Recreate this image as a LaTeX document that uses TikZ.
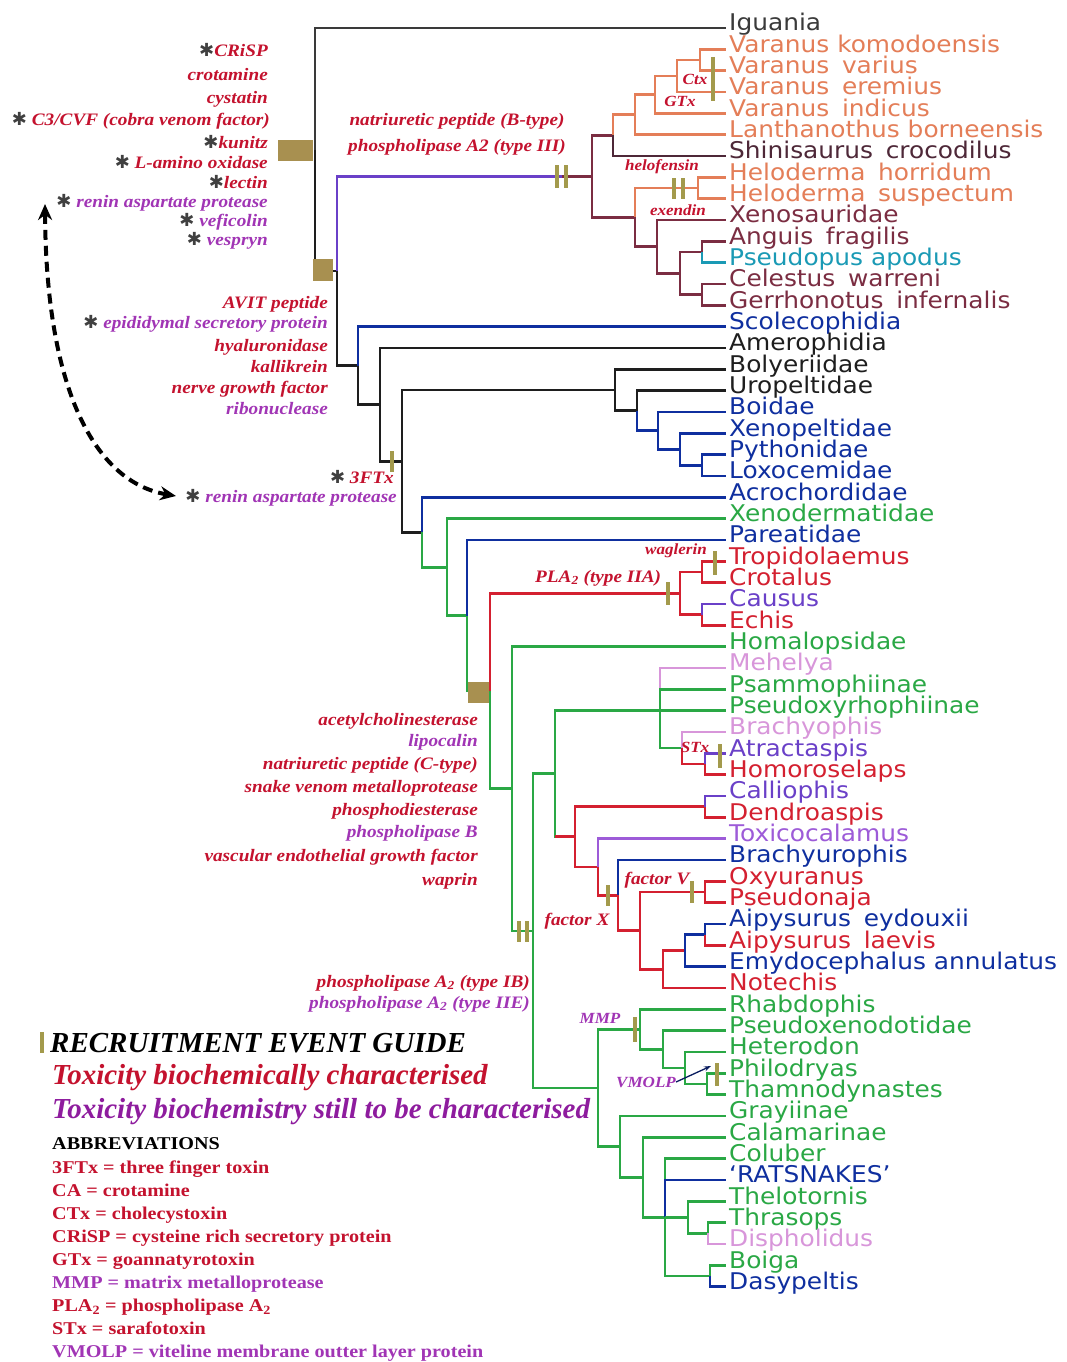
\documentclass[tikz,border=0pt]{standalone}
\usepackage{fontspec}
\setmainfont{Liberation Serif}
\newfontfamily\tipfont[FakeStretch=1.08]{DejaVu Sans}
\newfontfamily\symfnt{DejaVu Sans}
\newfontfamily\labserif[FakeStretch=1.1]{Liberation Serif}
\newfontfamily\absserif[FakeStretch=1.12]{Liberation Serif}
\usetikzlibrary{arrows.meta}
\definecolor{cgray}{HTML}{3A3A3A}
\definecolor{cblack}{HTML}{1E1E1E}
\definecolor{corange}{HTML}{E47E58}
\definecolor{cmaroon}{HTML}{7B2D42}
\definecolor{cdmaroon}{HTML}{4E2838}
\definecolor{cteal}{HTML}{1A9AB5}
\definecolor{cblue}{HTML}{0F2F9F}
\definecolor{cgreen}{HTML}{2AA845}
\definecolor{cred}{HTML}{D42030}
\definecolor{cpurple}{HTML}{6A40C8}
\definecolor{cpink}{HTML}{D896DA}
\definecolor{cviolet}{HTML}{9D5BD8}
\definecolor{lred}{HTML}{C4122E}
\definecolor{lpurple}{HTML}{A135B5}
\definecolor{gpurple}{HTML}{8E1C9E}
\definecolor{tickc}{HTML}{A39A4C}
\definecolor{boxc}{HTML}{A89050}
\definecolor{cstar}{HTML}{404040}
\newcommand\wsp{\hspace{0.55em}}
\newcommand\astk{{\color{cstar}\symfnt\fontsize{18}{18}\selectfont ✱}}
\newcommand\brn[3]{\draw[br,#1] (#2) |- (#3);}
\tikzset{
  br/.style={line width=2.8pt},
  tk/.style={draw=tickc, line width=3.4pt},
  tip/.style={font={\tipfont\fontsize{23}{25}\selectfont}, anchor=base west, inner sep=0pt},
  lab/.style={font={\labserif\bfseries\itshape\fontsize{17.5}{19}\selectfont}, inner sep=0pt},
  labs/.style={font={\labserif\bfseries\itshape\fontsize{15.5}{17}\selectfont}, inner sep=0pt},
  labR/.style={lab, text=lred},
  labP/.style={lab, text=lpurple},
  big/.style={font={\bfseries\itshape\fontsize{29}{31}\selectfont}, inner sep=0pt, anchor=base west},
  abb/.style={font={\absserif\bfseries\fontsize{18}{20}\selectfont}, inner sep=0pt, anchor=base west},
}
\begin{document}
\begin{tikzpicture}[x=1pt,y=-1pt]
\useasboundingbox[fill=white] (0,0) rectangle (1066,1362);

% tips
\foreach \i/\nm/\cc in {
1/Iguania/cgray,
2/Varanus komodoensis/corange,
3/Varanus\wsp varius/corange,
4/Varanus\wsp eremius/corange,
5/Varanus\wsp indicus/corange,
6/Lanthanothus borneensis/corange,
7/Shinisaurus\wsp crocodilus/cdmaroon,
8/Heloderma\wsp horridum/corange,
9/Heloderma\wsp suspectum/corange,
10/Xenosauridae/cmaroon,
11/Anguis\wsp fragilis/cmaroon,
12/Pseudopus apodus/cteal,
13/Celestus\wsp warreni/cmaroon,
14/Gerrhonotus\wsp infernalis/cmaroon,
15/Scolecophidia/cblue,
16/Amerophidia/cblack,
17/Bolyeriidae/cblack,
18/Uropeltidae/cblack,
19/Boidae/cblue,
20/Xenopeltidae/cblue,
21/Pythonidae/cblue,
22/Loxocemidae/cblue,
23/Acrochordidae/cblue,
24/Xenodermatidae/cgreen,
25/Pareatidae/cblue,
26/Tropidolaemus/cred,
27/Crotalus/cred,
28/Causus/cpurple,
29/Echis/cred,
30/Homalopsidae/cgreen,
31/Mehelya/cpink,
32/Psammophiinae/cgreen,
33/Pseudoxyrhophiinae/cgreen,
34/Brachyophis/cpink,
35/Atractaspis/cpurple,
36/Homoroselaps/cred,
37/Calliophis/cpurple,
38/Dendroaspis/cred,
39/Toxicocalamus/cviolet,
40/Brachyurophis/cblue,
41/Oxyuranus/cred,
42/Pseudonaja/cred,
43/Aipysurus\wsp eydouxii/cblue,
44/Aipysurus\wsp laevis/cred,
45/Emydocephalus annulatus/cblue,
46/Notechis/cred,
47/Rhabdophis/cgreen,
48/Pseudoxenodotidae/cgreen,
49/Heterodon/cgreen,
50/Philodryas/cgreen,
51/Thamnodynastes/cgreen,
52/Grayiinae/cgreen,
53/Calamarinae/cgreen,
54/Coluber/cgreen,
55/‘RATSNAKES’/cblue,
56/Thelotornis/cgreen,
57/Thrasops/cgreen,
58/Dispholidus/cpink,
59/Boiga/cgreen,
60/Dasypeltis/cblue}{
  \pgfmathsetmacro\yy{28+(\i-1)*21.333}
  \coordinate (t\i) at (726,\yy);
  \node[tip,text=\cc] (l\i) at (729,\yy+3) {\nm};
}

% internal nodes
\coordinate (R) at (315,149.5);
\coordinate (T) at (337,271);
\coordinate (A) at (592,176.3);
\coordinate (tA) at (562,176.3);
\coordinate (a1) at (613,135.3);
\coordinate (a2) at (635,114.7);
\coordinate (a3) at (655,94.7);
\coordinate (a4) at (677,76);
\coordinate (a5) at (700,60);
\coordinate (a6) at (635,217.3);
\coordinate (a7) at (698,188);
\coordinate (a8) at (657,246.7);
\coordinate (a9) at (680,273.3);
\coordinate (a10) at (702,252);
\coordinate (a11) at (702,294.7);
\coordinate (S) at (358,365.6);
\coordinate (s1) at (380,404.6);
\coordinate (s2) at (402,461.1);
\coordinate (s3) at (615,390);
\coordinate (s4) at (637,410.7);
\coordinate (s5) at (658,430.7);
\coordinate (s6) at (680,449.3);
\coordinate (s7) at (702,465.3);
\coordinate (s8) at (422,532.2);
\coordinate (s9) at (447,567.1);
\coordinate (s10) at (467,615.5);
\coordinate (s11) at (490,691);
\coordinate (v0) at (680,593.3);
\coordinate (v1) at (702,572);
\coordinate (v2) at (702,614.7);
\coordinate (C1) at (512,788.8);
\coordinate (C2) at (533,930.9);
\coordinate (C3) at (555,773.8);
\coordinate (L) at (660,710.7);
\coordinate (At) at (682,748);
\coordinate (At2) at (705,764);
\coordinate (E1) at (575,836.8);
\coordinate (E2) at (705,806.7);
\coordinate (E3) at (598,867);
\coordinate (E4) at (618,895.3);
\coordinate (E5) at (640,930.7);
\coordinate (E6) at (705,892);
\coordinate (E7) at (663,969.3);
\coordinate (E8) at (685,950.7);
\coordinate (E9) at (705,934.7);
\coordinate (D1) at (598,1088);
\coordinate (D2) at (640,1029.3);
\coordinate (D3) at (663,1049.3);
\coordinate (D4) at (685,1068);
\coordinate (D5) at (707,1084);
\coordinate (D6) at (620,1146.7);
\coordinate (D7) at (643,1177.3);
\coordinate (D8) at (665,1217.3);
\coordinate (D9) at (688,1217.3);
\coordinate (D10) at (708,1233.3);
\coordinate (D11) at (710,1276);

% branches: root and anguimorphs
\brn{cgray}{R}{t1}
\brn{cblack}{R}{T}
\brn{cpurple}{T}{tA}
\draw[br,cmaroon] (tA) -- (A);
\brn{cmaroon}{A}{a1}
\brn{cmaroon}{A}{a6}
\brn{corange}{a1}{a2}
\brn{cdmaroon}{a1}{t7}
\brn{corange}{a2}{a3}
\brn{corange}{a2}{t6}
\brn{corange}{a3}{a4}
\brn{corange}{a3}{t5}
\brn{corange}{a4}{a5}
\brn{corange}{a4}{t4}
\brn{corange}{a5}{t2}
\brn{corange}{a5}{t3}
\brn{corange}{a6}{a7}
\brn{corange}{a7}{t8}
\brn{corange}{a7}{t9}
\brn{cmaroon}{a6}{a8}
\brn{cmaroon}{a8}{t10}
\brn{cmaroon}{a8}{a9}
\brn{cmaroon}{a9}{a10}
\brn{cmaroon}{a9}{a11}
\brn{cmaroon}{a10}{t11}
\brn{cteal}{a10}{t12}
\brn{cmaroon}{a11}{t13}
\brn{cmaroon}{a11}{t14}
% snakes
\brn{cblack}{T}{S}
\brn{cblue}{S}{t15}
\brn{cblack}{S}{s1}
\brn{cblack}{s1}{t16}
\brn{cblack}{s1}{s2}
\brn{cblack}{s2}{s3}
\brn{cblack}{s3}{t17}
\brn{cblack}{s3}{s4}
\brn{cblack}{s4}{t18}
\brn{cblue}{s4}{s5}
\brn{cblue}{s5}{t19}
\brn{cblue}{s5}{s6}
\brn{cblue}{s6}{t20}
\brn{cblue}{s6}{s7}
\brn{cblue}{s7}{t21}
\brn{cblue}{s7}{t22}
\brn{cblack}{s2}{s8}
\brn{cblue}{s8}{t23}
\brn{cgreen}{s8}{s9}
\brn{cgreen}{s9}{t24}
\brn{cgreen}{s9}{s10}
\brn{cblue}{s10}{t25}
\brn{cgreen}{s10}{s11}
\brn{cred}{s11}{v0}
\brn{cred}{v0}{v1}
\brn{cred}{v0}{v2}
\brn{cred}{v1}{t26}
\brn{cred}{v1}{t27}
\brn{cpurple}{v2}{t28}
\brn{cred}{v2}{t29}
\brn{cgreen}{s11}{C1}
\brn{cgreen}{C1}{t30}
\brn{cgreen}{C1}{C2}
\brn{cgreen}{C2}{C3}
\brn{cgreen}{C2}{D1}
\brn{cgreen}{C3}{L}
\brn{cpink}{L}{t31}
\brn{cgreen}{L}{t32}
\brn{cgreen}{L}{t33}
\brn{cgreen}{L}{At}
\brn{cpink}{At}{t34}
\brn{cred}{At}{At2}
\brn{cpurple}{At2}{t35}
\brn{cred}{At2}{t36}
\brn{cgreen}{C3}{E1}
\draw[br,cred] (C3 |- E1) -- (E1);
\brn{cred}{E1}{E2}
\brn{cpurple}{E2}{t37}
\brn{cred}{E2}{t38}
\brn{cred}{E1}{E3}
\brn{cviolet}{E3}{t39}
\brn{cred}{E3}{E4}
\brn{cblue}{E4}{t40}
\brn{cred}{E4}{E5}
\brn{cred}{E5}{E6}
\brn{cred}{E6}{t41}
\brn{cred}{E6}{t42}
\brn{cred}{E5}{E7}
\brn{cred}{E7}{E8}
\brn{cred}{E7}{t46}
\brn{cblue}{E8}{E9}
\brn{cblue}{E8}{t45}
\brn{cblue}{E9}{t43}
\brn{cred}{E9}{t44}
\brn{cgreen}{D1}{D2}
\brn{cgreen}{D2}{t47}
\brn{cgreen}{D2}{D3}
\brn{cgreen}{D3}{t48}
\brn{cgreen}{D3}{D4}
\brn{cgreen}{D4}{t49}
\brn{cgreen}{D4}{D5}
\brn{cgreen}{D5}{t50}
\brn{cgreen}{D5}{t51}
\brn{cgreen}{D1}{D6}
\brn{cgreen}{D6}{t52}
\brn{cgreen}{D6}{D7}
\brn{cgreen}{D7}{t53}
\brn{cgreen}{D7}{D8}
\brn{cgreen}{D8}{t54}
\brn{cblue}{D8}{t55}
\brn{cgreen}{D8}{D9}
\brn{cgreen}{D9}{t56}
\brn{cgreen}{D9}{D10}
\brn{cgreen}{D10}{t57}
\brn{cpink}{D10}{t58}
\brn{cgreen}{D8}{D11}
\brn{cgreen}{D11}{t59}
\brn{cblue}{D11}{t60}

% recruitment boxes
\fill[boxc] (278,140) rectangle (313,161);
\fill[boxc] (313,259) rectangle (333,281);
\fill[boxc] (468,682) rectangle (489,703);

% recruitment ticks
\draw[tk] (557,165) -- (557,188);
\draw[tk] (566,165) -- (566,188);
\draw[tk] (713,57) -- (713,101);
\draw[tk] (674,178) -- (674,199);
\draw[tk] (683,178) -- (683,199);
\draw[tk] (392,451) -- (392,472);
\draw[tk] (668,582) -- (668,605);
\draw[tk] (715,551) -- (715,575);
\draw[tk] (720,744) -- (720,768);
\draw[tk] (608,885) -- (608,906);
\draw[tk] (692,881) -- (692,903);
\draw[tk] (519,921) -- (519,942);
\draw[tk] (527,921) -- (527,942);
\draw[tk] (635,1017) -- (635,1042);
\draw[tk] (717,1063) -- (717,1086);

% root toxin labels
\node[labR,anchor=base east] (k1) at (268,57) {\astk CRiSP};
\node[labR,anchor=base east] (k2) at (268,81) {crotamine};
\node[labR,anchor=base east] (k3) at (268,104) {cystatin};
\node[labR,anchor=base east] (k4) at (270,125) {\astk\ C3/CVF (cobra venom factor)};
\node[labR,anchor=base east] (k5) at (268,148) {\astk kunitz};
\node[labR,anchor=base east] (k6) at (268,168) {\astk\ L-amino oxidase};
\node[labR,anchor=base east] (k7) at (268,188) {\astk lectin};
\node[labP,anchor=base east] (k8) at (268,207) {\astk\ renin aspartate protease};
\node[labP,anchor=base east] (k9) at (268,226) {\astk\ veficolin};
\node[labP,anchor=base east] (k10) at (268,245) {\astk\ vespryn};

\node[labR,anchor=base east] (m1) at (328,308) {AVIT peptide};
\node[labP,anchor=base east] (m2) at (328,328) {\astk\ epididymal secretory protein};
\node[labR,anchor=base east] (m3) at (328,351) {hyaluronidase};
\node[labR,anchor=base east] (m4) at (328,372) {kallikrein};
\node[labR,anchor=base east] (m5) at (328,393) {nerve growth factor};
\node[labP,anchor=base east] (m6) at (328,414) {ribonuclease};

\node[labR,anchor=base east] (f1) at (394,483) {\astk\ 3FTx};
\node[labP,anchor=base east] (f2) at (397,502) {\astk\ renin aspartate protease};

% dashed double arrow
\coordinate (dA) at (45,204);
\coordinate (dB) at (176,496);
\draw[line width=4pt, dash pattern=on 10pt off 6pt,
  {Stealth[length=16pt,width=14pt]}-{Stealth[length=16pt,width=14pt]}]
  (dA) .. controls (46,390) and (95,482) .. (dB);

% anguimorph labels
\node[labR,anchor=base] (np1) at (457,125) {natriuretic peptide (B-type)};
\node[labR,anchor=base] (np2) at (457,151) {phospholipase A2 (type III)};
\node[labs,text=lred,anchor=base] (ctx) at (695,85) {Ctx};
\node[labs,text=lred,anchor=base] (gtx) at (680,107) {GTx};
\node[labs,text=lred,anchor=base] (helo) at (662,170) {helofensin};
\node[labs,text=lred,anchor=base] (exen) at (678,215) {exendin};

% viperid labels
\node[labs,text=lred,anchor=base east] (wag) at (707,554) {waglerin};
\node[labR,anchor=base west] (pla) at (535,582) {PLA\textsubscript{2} (type IIA)};

% caenophidian labels
\node[labR,anchor=base east] (c1) at (478,725) {acetylcholinesterase};
\node[labP,anchor=base east] (c2) at (478,746) {lipocalin};
\node[labR,anchor=base east] (c3) at (478,769) {natriuretic peptide (C-type)};
\node[labR,anchor=base east] (c4) at (478,792) {snake venom metalloprotease};
\node[labR,anchor=base east] (c5) at (478,815) {phosphodiesterase};
\node[labP,anchor=base east] (c6) at (478,837) {phospholipase B};
\node[labR,anchor=base east] (c7) at (478,861) {vascular endothelial growth factor};
\node[labR,anchor=base east] (c8) at (478,885) {waprin};
\node[labR,anchor=base east] (p1) at (530,987) {phospholipase A\textsubscript{2} (type IB)};
\node[labP,anchor=base east] (p2) at (530,1008) {phospholipase A\textsubscript{2} (type IIE)};

\node[labs,text=lred,anchor=base] (stx) at (695,752) {STx};
\node[labR,anchor=base] (fv) at (657,884) {factor V};
\node[labR,anchor=base] (fx) at (577,925) {factor X};
\node[labs,text=lpurple,anchor=base] (mmp) at (600,1023) {MMP};
\node[labs,text=lpurple,anchor=base] (vm) at (646,1087) {VMOLP};
\coordinate (vmA) at (711,1066);
\draw[-{Stealth[length=7pt,width=5pt]}, line width=1.3pt, cblue!60!black] (vm.east) -- (vmA);

% legend
\draw[tk] (42,1032) -- (42,1053);
\node[big] (g1) at (50,1052) {RECRUITMENT EVENT GUIDE};
\node[big,text=lred] (g2) at (52,1084) {Toxicity biochemically characterised};
\node[big,text=gpurple] (g3) at (52,1118) {Toxicity biochemistry still to be characterised};
\node[abb] (g4) at (52,1149) {ABBREVIATIONS};
\node[abb,text=lred] (b1) at (52,1173) {3FTx = three finger toxin};
\node[abb,text=lred] (b2) at (52,1196.1) {CA = crotamine};
\node[abb,text=lred] (b3) at (52,1219.2) {CTx = cholecystoxin};
\node[abb,text=lred] (b4) at (52,1242.3) {CRiSP = cysteine rich secretory protein};
\node[abb,text=lred] (b5) at (52,1265.4) {GTx = goannatyrotoxin};
\node[abb,text=lpurple] (b6) at (52,1288.5) {MMP = matrix metalloprotease};
\node[abb,text=lred] (b7) at (52,1311.6) {PLA\textsubscript{2} = phospholipase A\textsubscript{2}};
\node[abb,text=lred] (b8) at (52,1334.7) {STx = sarafotoxin};
\node[abb,text=lpurple] (b9) at (52,1357.8) {VMOLP = viteline membrane outter layer protein};
\end{tikzpicture}
\end{document}
